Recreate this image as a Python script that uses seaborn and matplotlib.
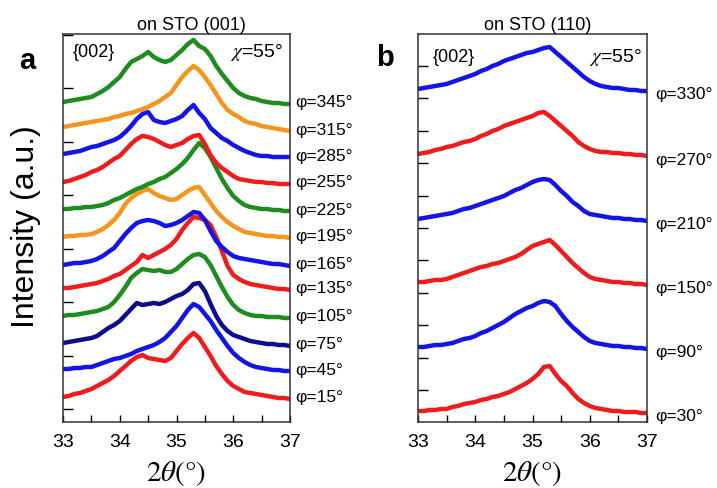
import numpy as np
import pandas as pd
import matplotlib
matplotlib.use("Agg")
import matplotlib.pyplot as plt
import matplotlib.transforms as mtrans
import seaborn as sns

# ---------------- data ----------------
two_theta = np.round(np.linspace(33.0, 37.0, 41), 1)

# panel a: on STO (001), bottom to top
phi_a = [15, 45, 75, 105, 135, 165, 195, 225, 255, 285, 315, 345]
colors_a = ["#ee1c1c", "#1414e6", "#0c0c8c", "#1e8c1e", "#ee1c1c", "#1414e6",
            "#f7941d", "#1e8c1e", "#ee1c1c", "#1414e6", "#f7941d", "#1e8c1e"]
a_phi15 = [25, 26, 28, 29, 31, 33, 36, 39, 42, 46, 51, 56, 61, 65, 67, 64, 63, 62, 61, 64,
           71, 78, 84, 89, 84, 75, 66, 56, 48, 41, 36, 33, 30, 29, 28, 27, 26, 25, 24, 24, 23]
a_phi45 = [53, 53, 54, 54, 55, 55, 57, 59, 61, 63, 64, 66, 68, 71, 73, 75, 77, 80, 84, 90,
           96, 104, 112, 118, 115, 108, 101, 92, 84, 76, 69, 64, 60, 57, 55, 54, 53, 52, 52, 51, 51]
a_phi75 = [79, 80, 81, 82, 83, 84, 86, 90, 94, 97, 101, 107, 113, 119, 117, 118, 119, 118, 120, 123,
           126, 128, 132, 138, 139, 131, 118, 106, 97, 91, 87, 85, 83, 81, 80, 79, 78, 78, 77, 77, 76]
a_phi105 = [106, 107, 107, 108, 109, 110, 111, 113, 115, 120, 127, 135, 144, 149, 153, 152, 151, 152, 150, 150,
            153, 158, 163, 167, 168, 165, 157, 146, 135, 125, 117, 112, 109, 107, 106, 106, 105, 105, 105, 104, 104]
a_phi135 = [134, 134, 135, 136, 137, 138, 139, 141, 143, 146, 148, 152, 156, 160, 167, 164, 167, 170, 173, 177,
            183, 192, 199, 205, 204, 202, 197, 185, 171, 156, 147, 143, 140, 138, 137, 136, 135, 134, 133, 133, 132]
a_phi165 = [157, 158, 159, 159, 160, 161, 163, 166, 170, 174, 181, 188, 194, 199, 201, 202, 201, 199, 196, 197,
            199, 202, 206, 210, 209, 202, 191, 181, 175, 170, 166, 164, 163, 162, 161, 160, 159, 158, 158, 157, 156]
a_phi195 = [185, 186, 186, 187, 187, 188, 190, 193, 197, 202, 209, 218, 224, 228, 231, 233, 229, 226, 224, 222,
            223, 227, 231, 234, 235, 227, 219, 211, 205, 200, 196, 193, 190, 189, 188, 187, 186, 186, 185, 185, 184]
a_phi225 = [213, 213, 214, 214, 215, 215, 216, 217, 219, 222, 224, 227, 230, 233, 235, 238, 240, 243, 245, 249,
            253, 258, 264, 272, 279, 274, 265, 254, 243, 234, 226, 221, 217, 215, 214, 213, 213, 212, 212, 211, 211]
a_phi255 = [240, 241, 243, 245, 247, 250, 252, 255, 259, 263, 266, 272, 278, 283, 286, 285, 283, 280, 277, 275,
            277, 279, 283, 286, 287, 278, 267, 259, 254, 250, 246, 243, 242, 241, 240, 240, 239, 239, 238, 238, 238]
a_phi285 = [268, 269, 270, 271, 273, 275, 276, 278, 280, 282, 285, 290, 296, 303, 308, 310, 302, 300, 299, 301,
            303, 306, 312, 317, 309, 303, 294, 289, 284, 281, 277, 274, 271, 269, 267, 266, 266, 265, 265, 265, 265]
a_phi315 = [295, 296, 297, 298, 299, 300, 301, 302, 303, 305, 306, 308, 309, 311, 313, 315, 318, 321, 325, 329,
            337, 345, 351, 356, 352, 345, 337, 328, 319, 312, 308, 305, 301, 299, 298, 296, 295, 294, 293, 292, 291]
a_phi345 = [320, 321, 322, 323, 324, 325, 328, 331, 335, 340, 345, 353, 360, 363, 366, 370, 365, 362, 360, 362,
            367, 372, 378, 382, 376, 373, 366, 356, 348, 341, 334, 329, 326, 324, 323, 321, 320, 319, 319, 318, 318]
curves_a = [a_phi15, a_phi45, a_phi75, a_phi105, a_phi135, a_phi165,
            a_phi195, a_phi225, a_phi255, a_phi285, a_phi315, a_phi345]

# panel b: on STO (110), bottom to top
phi_b = [30, 90, 150, 210, 270, 330]
colors_b = ["#ee1c1c", "#1414e6", "#ee1c1c", "#1414e6", "#ee1c1c", "#1414e6"]
b_phi30 = [11, 11, 12, 12, 13, 13, 15, 16, 18, 19, 20, 22, 23, 25, 26, 28, 30, 33, 36, 39,
           43, 48, 55, 56, 48, 41, 36, 29, 23, 19, 16, 14, 13, 12, 11, 11, 10, 10, 10, 9, 9]
b_phi90 = [75, 75, 76, 77, 77, 78, 79, 81, 83, 84, 86, 89, 91, 94, 97, 100, 104, 108, 111, 114,
           116, 119, 121, 120, 116, 108, 101, 95, 90, 85, 81, 79, 78, 77, 76, 76, 75, 75, 74, 74, 73]
b_phi150 = [140, 140, 141, 142, 142, 143, 145, 147, 149, 151, 153, 155, 156, 158, 159, 161, 163, 165, 168, 172,
            176, 178, 180, 182, 177, 171, 165, 159, 154, 149, 145, 143, 142, 141, 140, 140, 139, 139, 138, 138, 137]
b_phi210 = [203, 204, 205, 206, 207, 208, 209, 211, 213, 214, 216, 218, 220, 222, 224, 226, 229, 232, 234, 237,
            240, 242, 243, 242, 237, 231, 226, 220, 216, 211, 208, 207, 206, 205, 204, 204, 203, 203, 202, 202, 201]
b_phi270 = [268, 269, 270, 272, 273, 275, 276, 278, 280, 281, 283, 286, 288, 291, 293, 296, 298, 300, 302, 304,
            306, 309, 310, 306, 301, 296, 291, 286, 280, 276, 273, 271, 270, 270, 269, 269, 268, 268, 267, 267, 266]
b_phi330 = [333, 334, 335, 336, 337, 338, 340, 342, 344, 346, 348, 351, 353, 356, 358, 361, 363, 365, 367, 369,
            370, 372, 374, 375, 370, 365, 360, 355, 350, 345, 341, 338, 336, 335, 334, 334, 333, 332, 332, 331, 331]
curves_b = [b_phi30, b_phi90, b_phi150, b_phi210, b_phi270, b_phi330]

titles = ["on STO (001)", "on STO (110)"]
panel_letters = ["a", "b"]
reflection = "{002}"
chi_text = r"$\chi$=55°"
xticks = [33, 34, 35, 36, 37]

# ---------------- style ----------------
sns.set_style("ticks")
plt.rcParams["font.family"] = ["Liberation Sans", "DejaVu Sans"]
plt.rcParams["mathtext.fontset"] = "stix"
for k in ["text.color", "axes.labelcolor", "xtick.color", "ytick.color"]:
    plt.rcParams[k] = "black"

fig = plt.figure(figsize=(7.17, 4.89), dpi=100)
ax_a = fig.add_axes([63 / 717, 66 / 489, 227 / 717, 388 / 489])
ax_b = fig.add_axes([418 / 717, 66 / 489, 229 / 717, 388 / 489])


def make_df(phis, curves):
    rows = []
    for p, c in zip(phis, curves):
        rows.append(pd.DataFrame({"two_theta": two_theta, "intensity": c,
                                  "phi": f"φ={p}°"}))
    return pd.concat(rows, ignore_index=True)


panels = [
    (ax_a, phi_a, curves_a, colors_a, 13, 53.5, 1.022, 2),
    (ax_b, phi_b, curves_b, colors_b, 32, 32.4, 1.035, -3),
]

for i, (ax, phis, curves, cols, y0, dy, lab_x, lab_off) in enumerate(panels):
    df = make_df(phis, curves)
    order = [f"φ={p}°" for p in phis]
    sns.lineplot(data=df, x="two_theta", y="intensity", hue="phi",
                 hue_order=order, palette=dict(zip(order, cols)),
                 estimator=None, sort=False, legend=False, linewidth=3.2,
                 ax=ax)
    ax.set_xlim(33, 37)
    ax.set_ylim(0, 388)
    ax.set_xticks(xticks)
    ax.set_xticks(np.arange(33.5, 37, 1.0), minor=True)
    ax.set_yticks(np.arange(y0, 388, dy))
    ax.set_yticklabels([])
    ax.tick_params(axis="x", which="both", direction="in", length=5,
                   width=1, labelsize=14, pad=8, top=False, colors="black")
    ax.tick_params(axis="y", which="both", direction="in", length=7,
                   width=1, right=False)
    ax.set_xlabel(r"$2\theta(°)$", fontsize=21, labelpad=6)
    ax.set_ylabel("")
    for sp in ax.spines.values():
        sp.set_color("#333333")
        sp.set_linewidth(1.1)
    trans = mtrans.blended_transform_factory(ax.transAxes, ax.transData)
    for p, c in zip(phis, curves):
        ax.text(lab_x, c[-1] + lab_off, f"φ={p}°", transform=trans,
                fontsize=12.5, ha="left", va="center", clip_on=False)

ax_a.text(0.044, 0.954, reflection, transform=ax_a.transAxes, fontsize=13,
          ha="left", va="center")
ax_a.text(0.969, 0.954, chi_text, transform=ax_a.transAxes, fontsize=14,
          ha="right", va="center")
ax_b.text(0.066, 0.941, reflection, transform=ax_b.transAxes, fontsize=13,
          ha="left", va="center")
ax_b.text(0.978, 0.943, chi_text, transform=ax_b.transAxes, fontsize=14,
          ha="right", va="center")

fig.text(191 / 717, 1 - 25 / 489, titles[0], fontsize=13, ha="center", va="center")
fig.text(538 / 717, 1 - 25 / 489, titles[1], fontsize=13, ha="center", va="center")
fig.text(27 / 717, 1 - 61 / 489, panel_letters[0], fontsize=21, fontweight="bold",
         ha="center", va="center")
fig.text(385 / 717, 1 - 58 / 489, panel_letters[1], fontsize=21, fontweight="bold",
         ha="center", va="center")
fig.text(26 / 717, 1 - 227 / 489, "Intensity (a.u.)", fontsize=23, rotation=90,
         ha="center", va="center")

fig.savefig("out.png", dpi=100)
